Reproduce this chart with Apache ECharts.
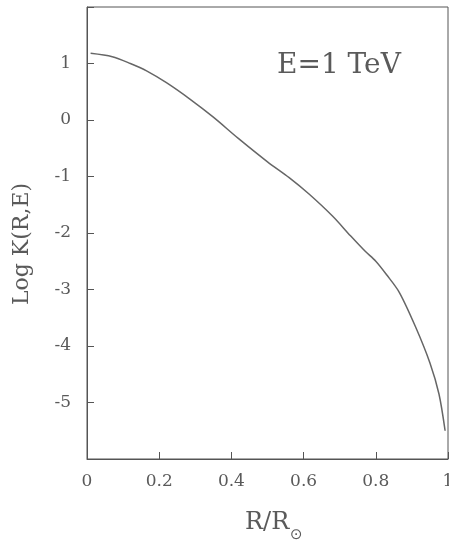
<!DOCTYPE html>
<html>
<head>
<meta charset="utf-8">
<script src="https://cdn.jsdelivr.net/npm/echarts@6/dist/echarts.min.js"></script>
<style>
  html, body { margin: 0; padding: 0; background: #fff; }
  #chart { width: 449px; height: 543px; }
</style>
</head>
<body>
<div id="chart"></div>
<script>
// R / R_sun values along the curve
const radius = [0.01, 0.07, 0.12, 0.165, 0.22, 0.285, 0.35, 0.42, 0.50, 0.56, 0.615, 0.68, 0.73, 0.77, 0.80, 0.83, 0.865, 0.91, 0.95, 0.975, 0.992]
// Log K(R,E) at E = 1 TeV
const logK = [1.18, 1.12, 1.0, 0.87, 0.66, 0.37, 0.05, -0.33, -0.74, -1.02, -1.31, -1.70, -2.05, -2.32, -2.5, -2.74, -3.05, -3.66, -4.3, -4.85, -5.5]
const yTicks = [-5, -4, -3, -2, -1, 0, 1]
const xTicks = [0, 0.2, 0.4, 0.6, 0.8, 1]

const chart = echarts.init(document.getElementById('chart'))
const serif = '"DejaVu Serif", "Liberation Serif", serif'
const axisColor = '#555'
const textColor = '#5a5a5a'

const option = {
  animation: false,
  grid: {
    left: 87, top: 7, right: 1, bottom: 84,
    outerBoundsMode: 'none',
    containLabel: false,
    show: true,
    borderColor: axisColor,
    borderWidth: 1
  },
  xAxis: {
    type: 'value',
    min: 0, max: 1, interval: 0.2,
    axisLine: { show: true, onZero: false, lineStyle: { color: axisColor } },
    axisTick: { show: true, inside: true, length: 7, lineStyle: { color: axisColor, width: 1 } },
    splitLine: { show: false },
    axisLabel: {
      margin: 14,
      color: textColor,
      fontFamily: serif,
      fontSize: 17,
      formatter: v => xTicks.includes(+v.toFixed(1)) ? String(+v.toFixed(1)) : ''
    }
  },
  yAxis: {
    type: 'value',
    min: -6, max: 2, interval: 1,
    axisLine: { show: true, onZero: false, lineStyle: { color: axisColor } },
    axisTick: { show: true, inside: true, length: 7, lineStyle: { color: axisColor, width: 1 } },
    splitLine: { show: false },
    axisLabel: {
      margin: 16,
      color: textColor,
      fontFamily: serif,
      fontSize: 17,
      formatter: v => yTicks.includes(v) ? String(v) : ''
    }
  },
  graphic: [
    {
      type: 'text', left: 277, top: 52,
      style: { text: 'E=1 TeV', font: '28px ' + serif, fill: textColor }
    },
    {
      type: 'text', x: 22, y: 244, rotation: Math.PI / 2,
      style: { text: 'Log K(R,E)', font: '22px ' + serif, fill: textColor, align: 'center', verticalAlign: 'middle' }
    },
    {
      type: 'text', x: 245, y: 511,
      style: { text: 'R/R', font: '24px ' + serif, fill: textColor }
    },
    {
      type: 'text', x: 290, y: 528,
      style: { text: '⊙', font: '15px "DejaVu Sans", sans-serif', fill: textColor }
    }
  ],
  series: [
    {
      type: 'line',
      data: radius.map((r, i) => [r, logK[i]]),
      smooth: 0.3,
      showSymbol: false,
      lineStyle: { color: '#666', width: 1.5 }
    }
  ]
}

chart.setOption(option)
</script>
</body>
</html>
